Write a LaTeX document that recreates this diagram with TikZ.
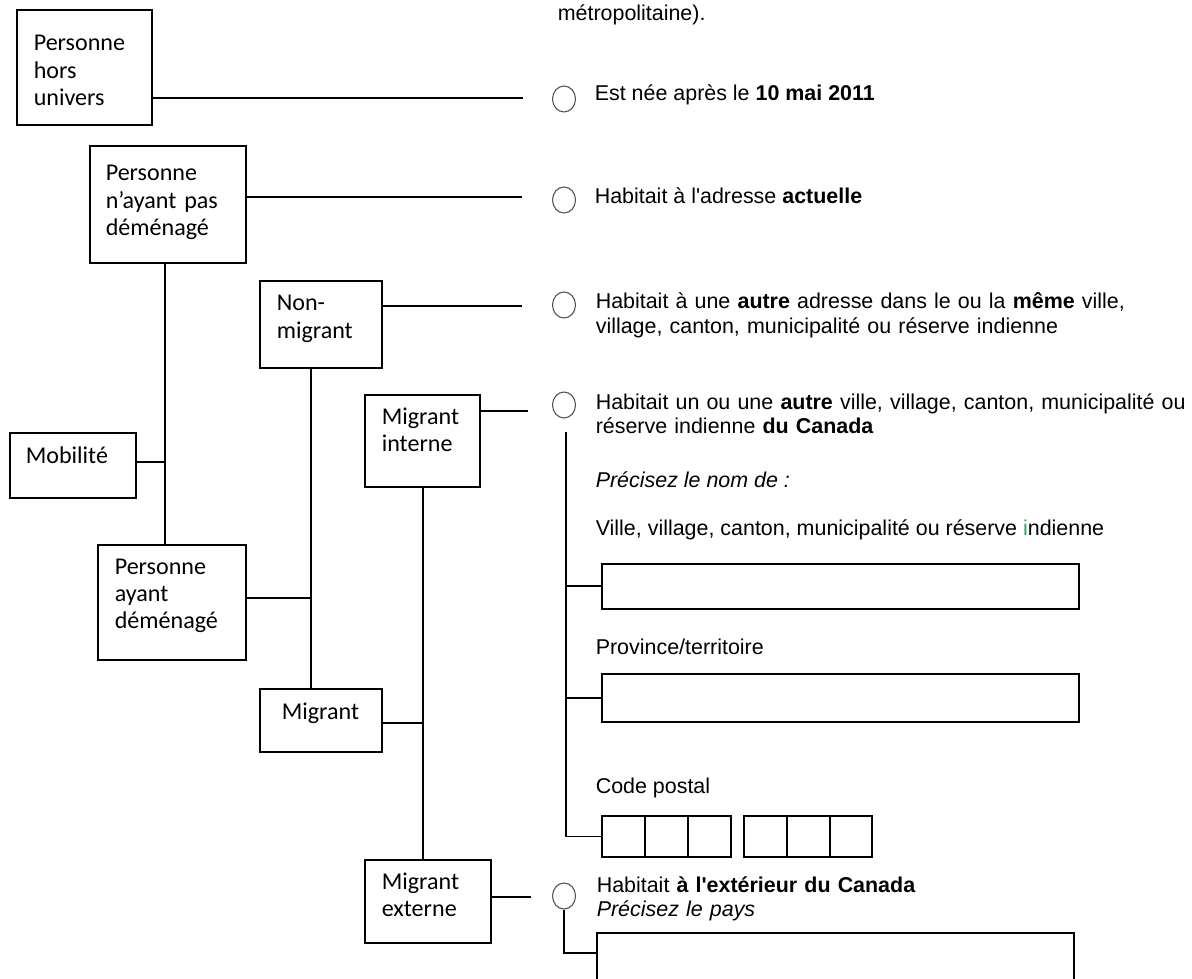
\documentclass[tikz,border=0pt]{standalone}
\usepackage{fontspec}
\setmainfont{Liberation Sans}[Ligatures=TeXOff]
\newfontfamily\boxfont{Carlito}
\usetikzlibrary{positioning,shapes.geometric}
\definecolor{greeni}{RGB}{40,170,90}

\begin{document}
\begin{tikzpicture}[x=0.02cm, y=-0.02cm, line width=0.9pt,
    box/.style={draw, inner sep=0pt, anchor=north west},
    lbl/.style={inner sep=0pt, anchor=base west, align=left, text width=3cm,
        font=\boxfont\fontsize{13.7}{15.4}\selectfont},
    txt/.style={inner sep=0pt, anchor=base west, align=left,
        font=\fontsize{12.2}{13.9}\selectfont},
    txtt/.style={txt, text width=11.8cm},
    radio/.style={ellipse, draw=black!70, line width=0.6pt, inner sep=0pt,
        minimum width=0.46cm, minimum height=0.52cm}]
    \useasboundingbox (0,0) rectangle (1192,979);
    \clip (0,0) rectangle (1192,979);

    % categories
    \node[box, minimum width=2.70cm, minimum height=2.30cm] (hors) at (16,9) {};
    \node[box, minimum width=3.12cm, minimum height=2.34cm] (stay) at (89,145) {};
    \node[box, minimum width=2.52cm, minimum height=1.30cm] (mob) at (9,432) {};
    \node[box, minimum width=2.44cm, minimum height=1.74cm] (nonmig) at (259,280) {};
    \node[box, minimum width=2.30cm, minimum height=1.84cm] (intmig) at (364,394) {};
    \node[box, minimum width=2.96cm, minimum height=2.30cm] (moved) at (97,544) {};
    \node[box, minimum width=2.44cm, minimum height=1.26cm] (mig) at (259,688) {};
    \node[box, minimum width=2.52cm, minimum height=1.66cm] (extmig) at (364,859) {};

    \node[lbl] (horsl) at (33,51) {Personne\\hors\\univers};
    \node[lbl] (stayl) at (105,181) {Personne\\n’ayant pas\\déménagé};
    \node[lbl] (mobl) at (25,463) {Mobilité};
    \node[lbl] (nonmigl) at (276,311) {Non-\\migrant};
    \node[lbl] (intmigl) at (381,424) {Migrant\\interne};
    \node[lbl] (movedl) at (114,574) {Personne\\ayant\\déménagé};
    \node[lbl] (migl) at (281,719) {Migrant};
    \node[lbl] (extmigl) at (381,889) {Migrant\\externe};

    % tree
    \coordinate (t1) at (165,462);
    \coordinate (t2) at (311,598);
    \coordinate (t3) at (423,723);
    \draw (stay.south -| t1) -- (moved.north -| t1);
    \draw (mob.east |- t1) -- (t1);
    \draw (nonmig.south -| t2) -- (mig.north -| t2);
    \draw (moved.east |- t2) -- (t2);
    \draw (intmig.south -| t3) -- (extmig.north -| t3);
    \draw (mig.east |- t3) -- (t3);

    % answers
    \coordinate (e1) at (523,98);
    \coordinate (e2) at (522,197);
    \coordinate (e3) at (522,306);
    \coordinate (e4) at (528,411);
    \coordinate (e5) at (531,897);
    \draw (hors.east |- e1) -- (e1);
    \draw (stay.east |- e2) -- (e2);
    \draw (nonmig.east |- e3) -- (e3);
    \draw (intmig.east |- e4) -- (e4);
    \draw (extmig.east |- e5) -- (e5);

    \node[radio] (r1) at (564,99) {};
    \node[radio] (r2) at (564,200) {};
    \node[radio] (r3) at (564,305) {};
    \node[radio] (r4) at (564,405) {};
    \node[radio] (r5) at (564,896) {};

    \node[txt] (top) at (557,21) {métropolitaine).};
    \node[txt] (q1) at (594,101) {Est née après le \textbf{10 mai 2011}};
    \node[txt] (q2) at (594,204) {Habitait à l'adresse \textbf{actuelle}};
    \node[txtt] (q3) at (595,309) {Habitait à une \textbf{autre} adresse dans le ou la \textbf{même} ville,\\village, canton, municipalité ou réserve indienne};
    \node[txtt] (q4) at (595,409) {Habitait un ou une \textbf{autre} ville, village, canton, municipalité ou\\réserve indienne \textbf{du Canada}};
    \node[txt] (n1) at (595,487) {\textit{Précisez le nom de :}};
    \node[txt] (n2) at (595,535) {Ville, village, canton, municipalité ou réserve {\color{greeni}i}ndienne};
    \node[txt] (n3) at (595,654) {Province/territoire};
    \node[txt] (n4) at (595,793) {Code postal};
    \node[txtt] (q5) at (596,892) {Habitait \textbf{à l'extérieur du Canada}\\\textit{Précisez le pays}};

    % fields
    \node[box, minimum width=9.54cm, minimum height=0.90cm] (f1) at (601,563) {};
    \node[box, minimum width=9.54cm, minimum height=0.96cm] (f2) at (601,673) {};
    \node[box, minimum width=2.58cm, minimum height=0.82cm] (c1) at (601,815) {};
    \node[box, minimum width=2.56cm, minimum height=0.82cm] (c2) at (743,815) {};
    \node[box, minimum width=9.54cm, minimum height=1.60cm] (pays) at (596,932) {};
    \foreach \x/\w in {645/1.6pt, 688/0.9pt, 787/1.6pt, 830/0.9pt}
        \draw[line width=\w] (\x,815) -- (\x,856);

    \coordinate (s0) at (566,432);
    \draw (s0) |- (c1.west);
    \draw (s0 |- f1.west) -- (f1.west);
    \draw (s0 |- f2.west) -- (f2.west);
    \draw (r5.south) |- ([yshift=-0.42cm]pays.north west);
\end{tikzpicture}
\end{document}
